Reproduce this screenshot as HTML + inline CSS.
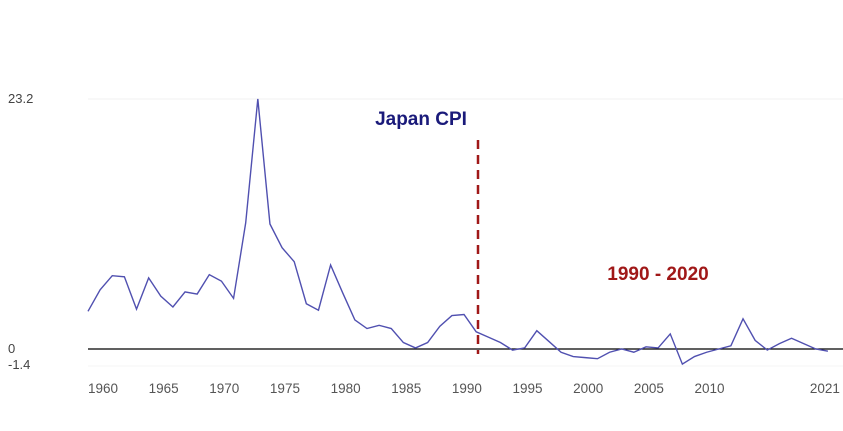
<!DOCTYPE html>
<html><head><meta charset="utf-8"><style>
body{margin:0;background:#fff;width:843px;height:426px;overflow:hidden}
svg text{font-family:"Liberation Sans",sans-serif}
</style></head><body>
<svg width="843" height="426">
<script>
const years=[1960,1961,1962,1963,1964,1965,1966,1967,1968,1969,1970,1971,1972,1973,1974,1975,1976,1977,1978,1979,1980,1981,1982,1983,1984,1985,1986,1987,1988,1989,1990,1991,1992,1993,1994,1995,1996,1997,1998,1999,2000,2001,2002,2003,2004,2005,2006,2007,2008,2009,2010,2011,2012,2013,2014,2015,2016,2017,2018,2019,2020,2021];
const cpi=[3.5,5.5,6.8,6.7,3.7,6.6,4.9,3.9,5.3,5.1,6.9,6.3,4.7,11.7,23.2,11.6,9.4,8.1,4.2,3.6,7.8,5.2,2.7,1.9,2.2,1.9,0.6,0.1,0.6,2.1,3.1,3.2,1.6,1.1,0.6,-0.1,0.1,1.7,0.7,-0.3,-0.7,-0.8,-0.9,-0.3,0,-0.3,0.2,0.1,1.4,-1.4,-0.7,-0.3,0,0.3,2.8,0.8,-0.1,0.5,1.0,0.5,0,-0.2];
const tickYears=[1960,1965,1970,1975,1980,1985,1990,1995,2000,2005,2010,2021];
const yTicks=[23.2,0,-1.4];
</script>
<g id="g"></g>
<script>
const NS="http://www.w3.org/2000/svg";
const g=document.getElementById('g');
const x=y=>88+(y-1960)*12.13;
const yv=v=>349-v*250/23.2;
function mk(t,a){const e=document.createElementNS(NS,t);for(const k in a)e.setAttribute(k,a[k]);g.appendChild(e);return e;}
let e=mk('line',{x1:88,x2:843,y1:yv(23.2),y2:yv(23.2),stroke:'#f0f0f0'});


e=mk('line',{x1:88,x2:843,y1:366,y2:366,stroke:'#f4f4f4'});


e=mk('line',{x1:88,x2:843,y1:yv(0),y2:yv(0),stroke:'#000','stroke-width':1.3});


e=mk('line',{x1:478,x2:478,y1:140,y2:354,stroke:'#a01818','stroke-width':2.5,'stroke-dasharray':'9,6'});


e=mk('polyline',{points:years.map((yr,i)=>x(yr)+','+yv(cpi[i])).join(' '),fill:'none',stroke:'#5050b0','stroke-width':1.4});


yTicks.forEach(v=>{const t=mk('text',{x:8,y:yv(v)+(v<0?5:4),'font-size':13,fill:'#444'});t.textContent=v;

});
tickYears.forEach(yr=>{const t=mk('text',{x:yr===2021?x(yr)-3:x(yr)+15,y:393,'font-size':13.5,fill:'#555','text-anchor':'middle'});t.textContent=yr;

});
e=mk('text',{x:421,y:125,'font-size':19,'font-weight':'bold',fill:'#1a1a7a','text-anchor':'middle'});e.textContent='Japan CPI';


e=mk('text',{x:658,y:280,'font-size':19,'font-weight':'bold',fill:'#a01818','text-anchor':'middle'});e.textContent='1990 - 2020';


</script>
</svg>
</body></html>
